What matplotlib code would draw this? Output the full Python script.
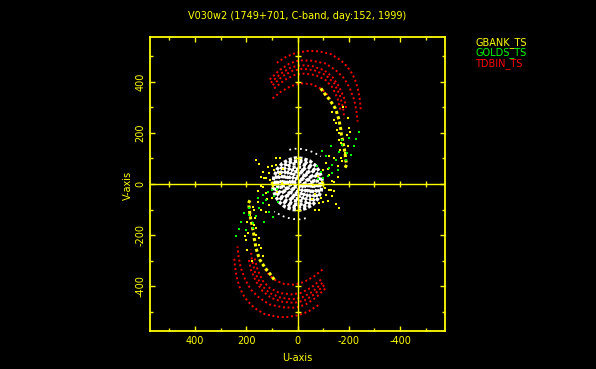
import numpy as np
import matplotlib.pyplot as plt
from matplotlib.ticker import MultipleLocator

plt.rcParams['axes.unicode_minus'] = False

title = "V030w2 (1749+701, C-band, day:152, 1999)"
legend_names = ["GBANK_TS", "GOLDS_TS", "TDBIN_TS"]
legend_colors = ["yellow", "#00ff00", "red"]
major_ticks = [-400, -200, 0, 200, 400]

# u,v samples for one half of each track; the other half is the conjugate (-u, -v)
# TDBIN_TS (red) tracks
tdbin_1_u = [81, 45, 6, -45, -84, -130, -169, -195, -214, -227, -238, -244, -247]
tdbin_1_v = [474, 497, 513, 521, 519, 508, 484, 458, 430, 400, 361, 322, 283]
tdbin_2_u = [108, 71, 32, -6, -58, -110, -149, -182, -204, -221, -230, -234]
tdbin_2_v = [409, 445, 471, 484, 482, 471, 445, 413, 374, 329, 283, 244]
tdbin_3_u = [104, 65, 26, -13, -58, -104, -136, -162, -182, -191]
tdbin_3_v = [396, 432, 456, 465, 461, 445, 419, 381, 335, 290]
tdbin_4_u = [97, 58, 19, -19, -65, -110, -143, -165, -178, -182]
tdbin_4_v = [387, 422, 443, 451, 445, 426, 394, 348, 296, 257]
tdbin_5_u = [91, 52, 13, -26, -71, -110, -136, -156, -169]
tdbin_5_v = [374, 406, 426, 432, 426, 406, 378, 335, 283]
tdbin_6_u = [97, 65, 26, -13, -52, -84, -110, -130]
tdbin_6_v = [335, 361, 383, 394, 391, 378, 357, 330]

# GBANK_TS (yellow)
gbank_band_u = [-91, -100, -110, -121, -130, -139, -147, -152, -157, -162, -165,
                -169, -171, -175, -179, -183, -186, -188, -191, -182]
gbank_band_v = [374, 361, 348, 335, 322, 309, 296, 283, 266, 251, 231,
                212, 192, 173, 153, 134, 114, 95, 75, 56]
gbank_dots_u = [-136, -143, -152, -160, -165, -169, -156, -143, -123, -110, -100,
                -121, -136, -130, -110, -143, -91, -84, -69, -58, -100, 82, 100,
                117, 134, 123, 108, 143, 156, 97, -196, -200, -178, -150, -170,
                -120, -80, 60, 70, 150, 161, -192, -198, -186, -204, -175, -160]
gbank_dots_v = [283, 251, 212, 173, 134, 101, 69, 101, 108, 82, 56,
                36, 10, -22, -42, -29, -55, -74, -100, -58, -3, 101, 71,
                66, 45, 23, 14, -9, -29, -9, 260, 220, 300, 240, 160,
                60, 30, 5, 40, 80, 95, 190, 150, 120, 205, 90, 200]

# GOLDS_TS (green)
golds_u = [-238, -227, -221, -208, -191, -162, -149, -136, -123, -156, -117,
           -100, -136, -175, -173, -188, -80, -90, -75, -110, -95, -200, -130]
golds_v = [205, 175, 147, 114, 121, 127, 95, 75, 62, 56, 30,
           23, 43, 173, 153, 95, 20, 45, 70, 110, 130, 180, 150]

# unlabelled short-baseline tracks (white)
white_1_u = [97, 92, 80, 60, 35, 8, -20, -48, -70, -86, -95, -98]
white_1_v = [-5, 28, 57, 80, 95, 102, 100, 90, 72, 48, 22, -8]
white_2_u = [88, 83, 70, 50, 25, -3, -32, -56, -74, -85, -89]
white_2_v = [0, 30, 55, 74, 86, 90, 84, 68, 46, 20, -6]
white_3_u = [78, 72, 58, 38, 12, -15, -40, -60, -74, -80]
white_3_v = [0, 30, 55, 71, 80, 79, 68, 50, 25, -3]
white_4_u = [66, 60, 46, 26, 2, -22, -44, -60, -67]
white_4_v = [2, 28, 50, 63, 68, 63, 48, 26, -2]
white_5_u = [58, 50, 34, 12, -12, -34, -50, -58]
white_5_v = [2, 30, 49, 58, 58, 47, 28, 0]
white_6_u = [48, 42, 28, 8, -14, -32, -44, -49]
white_6_v = [0, 22, 40, 48, 46, 34, 16, -4]
white_7_u = [40, 32, 15, -5, -24, -38, -41]
white_7_v = [0, 25, 38, 41, 34, 15, -5]
white_8_u = [31, 24, 10, -8, -22, -31]
white_8_v = [2, 20, 30, 30, 20, 0]
white_9_u = [22, 14, -2, -16, -23]
white_9_v = [3, 18, 23, 16, -2]
white_10_u = [13, 6, -6, -13]
white_10_v = [1, 11, 11, -1]
white_ring_u = [32, 10, -15, -40, -62, -80, -91]
white_ring_v = [134, 138, 137, 132, 124, 114, 108]


def track(ax, u, v, color, lw=1.4, gap=1.4):
    u = np.array(u)
    v = np.array(v)
    for s in (1, -1):
        ax.plot(s * u, s * v, color=color, lw=lw, ls=(0, (1, gap)),
                solid_capstyle='butt', zorder=2)


def dots(ax, u, v, color):
    u = np.array(u)
    v = np.array(v)
    for s in (1, -1):
        ax.scatter(s * u, s * v, c=color, s=4, marker='s', linewidths=0, zorder=3)


fig = plt.figure(figsize=(5.96, 3.69), dpi=100, facecolor='black')
ax = fig.add_axes([0.2517, 0.1030, 0.4950, 0.7967], facecolor='black')

white_tracks = [(white_1_u, white_1_v), (white_2_u, white_2_v), (white_3_u, white_3_v),
                (white_4_u, white_4_v), (white_5_u, white_5_v), (white_6_u, white_6_v),
                (white_7_u, white_7_v), (white_8_u, white_8_v), (white_9_u, white_9_v),
                (white_10_u, white_10_v)]
for u, v in white_tracks:
    track(ax, u, v, 'white', lw=2.4, gap=0.6)
track(ax, white_ring_u, white_ring_v, 'white', lw=1.3, gap=2.0)

for u, v in [(tdbin_1_u, tdbin_1_v), (tdbin_2_u, tdbin_2_v), (tdbin_3_u, tdbin_3_v),
             (tdbin_4_u, tdbin_4_v), (tdbin_5_u, tdbin_5_v), (tdbin_6_u, tdbin_6_v)]:
    track(ax, u, v, 'red')

track(ax, gbank_band_u, gbank_band_v, 'yellow', lw=2.2, gap=0.8)
dots(ax, gbank_dots_u, gbank_dots_v, 'yellow')
dots(ax, golds_u, golds_v, '#00ff00')

# zero lines with tick crosses
ax.axhline(0, color='yellow', lw=1.0, zorder=5)
ax.axvline(0, color='yellow', lw=1.0, zorder=5)
cross = np.array([-500, -400, -300, -200, -100, 100, 200, 300, 400, 500])
ax.plot(cross, np.zeros(len(cross)), ls='none', marker='|', ms=5, mew=1.0,
        color='yellow', zorder=5)
ax.plot(np.zeros(len(cross)), cross, ls='none', marker='_', ms=5, mew=1.0,
        color='yellow', zorder=5)

ax.set_xlim(575, -575)
ax.set_ylim(-575, 575)
ax.set_xticks(major_ticks)
ax.set_yticks(major_ticks)
ax.xaxis.set_minor_locator(MultipleLocator(100))
ax.yaxis.set_minor_locator(MultipleLocator(100))
ax.tick_params(which='both', direction='in', top=True, right=True,
               colors='yellow', labelsize=7, width=1.0, pad=3.5)
ax.tick_params(which='major', length=3.8)
ax.tick_params(which='minor', length=2.3)
for lab in ax.get_yticklabels():
    lab.set_rotation(90)
    lab.set_va('center')
for sp in ax.spines.values():
    sp.set_color('yellow')
    sp.set_linewidth(1.3)

fig.text(297.5 / 596, 1 - 16.3 / 369, title, color='yellow', fontsize=7,
         ha='center', va='center')
fig.text(297 / 596, 1 - 358 / 369, "U-axis", color='yellow', fontsize=7,
         ha='center', va='center')
fig.text(127.7 / 596, 1 - 185 / 369, "V-axis", color='yellow', fontsize=7,
         ha='center', va='center', rotation=90)
for i, (name, col) in enumerate(zip(legend_names, legend_colors)):
    fig.text(475 / 596, 1 - (42.3 + 10.5 * i) / 369, name, color=col,
             fontsize=7, ha='left', va='center')

fig.savefig("out.png", dpi=100, facecolor='black')
